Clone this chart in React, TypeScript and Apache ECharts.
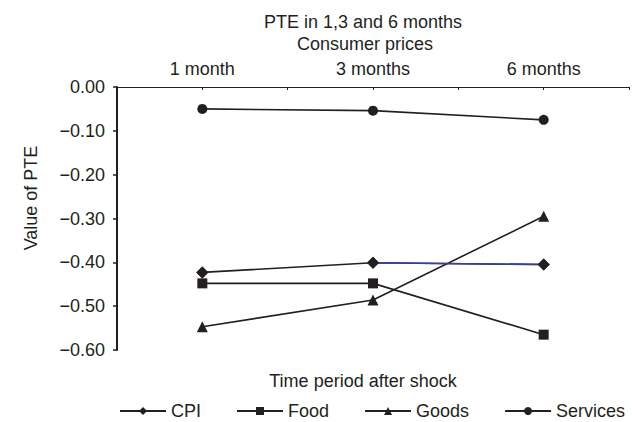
import React, { useEffect, useRef } from "react";
import * as echarts from "echarts";

const categories = ["1 month", "3 months", "6 months"];
const cpi = [-0.423, -0.401, -0.405];
const food = [-0.448, -0.448, -0.565];
const goods = [-0.547, -0.486, -0.295];
const services = [-0.05, -0.054, -0.075];
const seriesNames = ["CPI", "Food", "Goods", "Services"];
const yTicks = { min: -0.6, max: 0, interval: 0.1 };

const INK = "#231f20";
const BLUE = "#3a3f9c";
const FONT = "'Liberation Sans', Arial, Helvetica, sans-serif";

export default function App() {
  const ref = useRef<HTMLDivElement>(null);
  useEffect(() => {
    if (!ref.current) return;
    const chart = echarts.init(ref.current, null, { renderer: "svg" });
    const base = {
      type: "line",
      color: INK,
      lineStyle: { color: INK, width: 1.6 },
      itemStyle: { color: INK },
      symbolKeepAspect: true,
      z: 2,
    };
    chart.setOption({
      animation: false,
      backgroundColor: "#ffffff",
      textStyle: { fontFamily: FONT, color: INK },
      grid: { left: 117, right: 3, top: 87, bottom: 72, containLabel: false },
      legend: {
        data: seriesNames,
        left: 119,
        top: 402,
        padding: 0,
        width: 513,
        itemWidth: 46,
        itemHeight: 10,
        itemGap: 35,
        textStyle: { fontSize: 18, color: INK, fontFamily: FONT },
      },
      graphic: [
        {
          type: "text",
          x: 363,
          y: 22,
          style: {
            text: "PTE in 1,3 and 6 months",
            fontSize: 18,
            fontFamily: FONT,
            fill: INK,
            align: "center",
            verticalAlign: "middle",
          },
        },
        {
          type: "text",
          x: 365,
          y: 44,
          style: {
            text: "Consumer prices",
            fontSize: 18,
            fontFamily: FONT,
            fill: INK,
            align: "center",
            verticalAlign: "middle",
          },
        },
        {
          type: "text",
          x: 31,
          y: 198,
          rotation: Math.PI / 2,
          style: {
            text: "Value of PTE",
            fontSize: 18,
            fontFamily: FONT,
            fill: INK,
            align: "center",
            verticalAlign: "middle",
          },
        },
        {
          type: "text",
          x: 363,
          y: 381,
          style: {
            text: "Time period after shock",
            fontSize: 18,
            fontFamily: FONT,
            fill: INK,
            align: "center",
            verticalAlign: "middle",
          },
        },
      ],
      xAxis: [
        {
          type: "category",
          position: "top",
          data: categories,
          boundaryGap: true,
          axisLine: { show: true, lineStyle: { color: INK, width: 1 } },
          axisTick: { show: true, inside: true, length: 3, lineStyle: { color: INK } },
          axisLabel: { fontSize: 18, color: INK, fontFamily: FONT, margin: 9 },
          splitLine: { show: false },
        },
        {
          type: "category",
          position: "top",
          data: categories,
          boundaryGap: true,
          axisLine: { show: false },
          axisTick: { show: true, inside: true, alignWithLabel: true, length: 3, lineStyle: { color: INK } },
          axisLabel: { show: false },
          splitLine: { show: false },
        },
      ],
      yAxis: {
        type: "value",
        min: yTicks.min,
        max: yTicks.max,
        interval: yTicks.interval,
        axisLine: { show: true, lineStyle: { color: INK, width: 2 } },
        axisTick: { show: true, length: 4, lineStyle: { color: INK, width: 1.5 } },
        axisLabel: {
          fontSize: 18,
          color: INK,
          fontFamily: FONT,
          margin: 12,
          formatter: (v: number) => {
            const s = Math.abs(v).toFixed(2);
            return v < -1e-9 ? "\u2212" + s : s;
          },
        },
        splitLine: { show: false },
      },
      series: [
        { ...base, name: seriesNames[0], data: cpi, symbol: "diamond", symbolSize: 12 },
        {
          type: "line",
          name: "CPI segment",
          data: [null, cpi[1], cpi[2]],
          showSymbol: false,
          symbol: "none",
          lineStyle: { color: BLUE, width: 1.6 },
          itemStyle: { color: BLUE },
          z: 3,
        },
        {
          type: "line",
          name: "CPI markers",
          data: cpi,
          symbol: "diamond",
          symbolSize: 12,
          lineStyle: { width: 0, opacity: 0 },
          itemStyle: { color: INK },
          z: 4,
        },
        { ...base, name: seriesNames[1], data: food, symbol: "rect", symbolSize: 10 },
        { ...base, name: seriesNames[2], data: goods, symbol: "triangle", symbolSize: 11 },
        { ...base, name: seriesNames[3], data: services, symbol: "circle", symbolSize: 10 },
      ],
    });
    return () => chart.dispose();
  }, []);
  return (
    <div
      ref={ref}
      style={{ position: "absolute", left: 0, top: 0, width: 632, height: 422 }}
    />
  );
}
